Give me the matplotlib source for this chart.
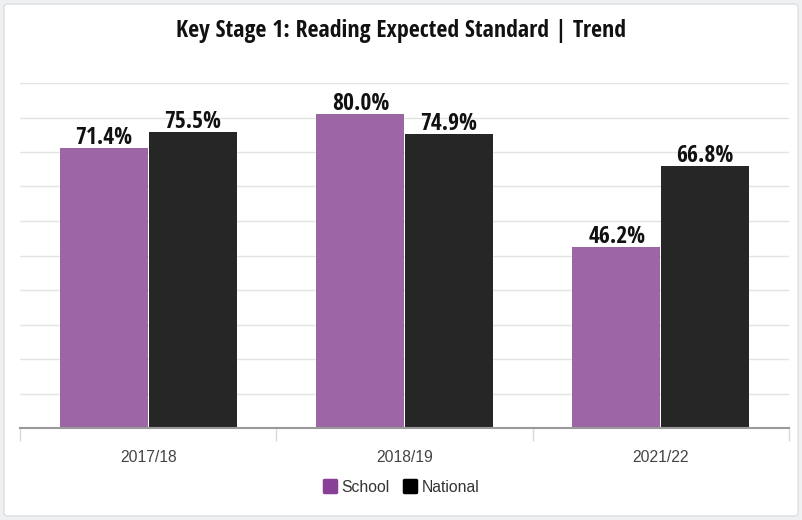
import matplotlib.pyplot as plt
import numpy as np
from matplotlib.patches import FancyBboxPatch
from matplotlib.lines import Line2D
from matplotlib.markers import MarkerStyle
from matplotlib import font_manager

years = ['2017/18', '2018/19', '2021/22']
school = [71.4, 80.0, 46.2]
national = [75.5, 74.9, 66.8]


def pick_condensed_bold():
    fonts = font_manager.fontManager.ttflist
    for wanted in ['Open Sans Condensed', 'Open Sans', 'Roboto Condensed',
                   'Barlow Condensed', 'Asap Condensed']:
        for f in fonts:
            if f.name.startswith(wanted) and f.stretch == 'condensed' \
                    and f.weight in (700, 'bold') and f.style == 'normal':
                return font_manager.FontProperties(fname=f.fname)
    return font_manager.FontProperties(family='DejaVu Sans', weight='bold')


bold_fp = pick_condensed_bold()
plt.rcParams['font.family'] = ['Liberation Sans', 'DejaVu Sans']

W, H = 802, 520
fig = plt.figure(figsize=(W / 100, H / 100), dpi=100)
fig.patch.set_facecolor('#eef0f2')

# white card behind the chart
card = FancyBboxPatch((4 / W, 4 / H), 794 / W, 512 / H,
                      boxstyle='round,pad=0,rounding_size=0.006',
                      transform=fig.transFigure, facecolor='white',
                      edgecolor='#dcdfe3', linewidth=1, zorder=-5)
fig.patches.append(card)

ax = fig.add_axes([20 / W, 1 - 428 / H, 769 / W, 345 / H])
ax.set_facecolor('none')

x = np.arange(len(years))
w = 88 / 256.3
ax.bar(x - w / 2 - 0.002, school, width=w, color='#9c66a4', zorder=2)
ax.bar(x + w / 2 + 0.002, national, width=w, color='#262626', zorder=2)

lab_fp = bold_fp.copy()
lab_fp.set_size(17)
for xs, vals in [(x - w / 2, school), (x + w / 2, national)]:
    for xi, v in zip(xs, vals):
        ax.annotate(f'{v:.1f}%', (xi, v), xytext=(0, 3), textcoords='offset points',
                    ha='center', va='baseline', color='#111111',
                    fontproperties=lab_fp)

ax.set_xlim(-0.5, 2.5)
ax.set_ylim(0, 88)
ax.set_yticks(np.linspace(0, 88, 11))
ax.yaxis.grid(True, color='#e3e3e3', linewidth=1)
ax.set_axisbelow(True)
ax.tick_params(axis='y', left=False, labelleft=False)

ax.set_xticks([-0.5, 0.5, 1.5, 2.5])
ax.set_xticklabels([])
ax.set_xticks(x, minor=True)
ax.set_xticklabels(years, minor=True)
ax.tick_params(axis='x', which='major', length=9, color='#d8d8d8', width=1)
ax.tick_params(axis='x', which='minor', length=0, pad=15.5, labelsize=11.3,
               labelcolor='#444444')

for s in ['top', 'right', 'left']:
    ax.spines[s].set_visible(False)
ax.spines['bottom'].set_color('#999999')
ax.spines['bottom'].set_linewidth(1.5)
ax.spines['bottom'].set_zorder(3)

title_fp = bold_fp.copy()
title_fp.set_size(17.2)
fig.text(0.5, 1 - 37 / H, 'Key Stage 1: Reading Expected Standard | Trend',
         ha='center', va='baseline', color='#111111', fontproperties=title_fp)

handles = [Line2D([], [], linestyle='none',
                  marker=MarkerStyle('s', joinstyle='round'), markersize=8.5,
                  markerfacecolor=c, markeredgecolor=c, markeredgewidth=2.5,
                  label=n)
           for c, n in [('#8a3f96', 'School'), ('#000000', 'National')]]
fig.legend(handles=handles, loc='center', bbox_to_anchor=(0.5, 1 - 487 / H),
           ncol=2, frameon=False, fontsize=11.3, handlelength=0.9,
           handletextpad=0.25, columnspacing=0.9, labelcolor='#333333')

fig.savefig('out.png', dpi=100)
